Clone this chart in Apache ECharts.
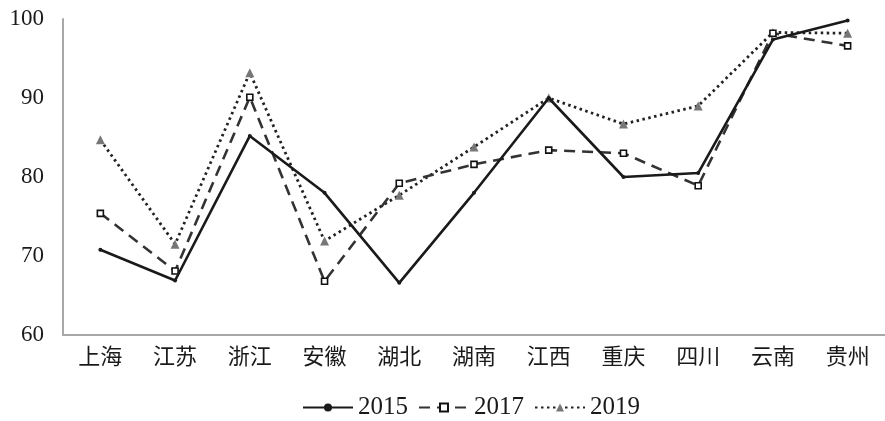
<!DOCTYPE html>
<html>
<head>
<meta charset="utf-8">
<script src="https://cdn.jsdelivr.net/npm/echarts@6/dist/echarts.min.js"></script>
<style>
  html, body { margin: 0; padding: 0; background: #fff; }
  #chart { width: 885px; height: 421px; }
</style>
</head>
<body>
<div id="chart"></div>
<script>
// Provinces along the horizontal axis
const provinces = ['上海', '江苏', '浙江', '安徽', '湖北', '湖南', '江西', '重庆', '四川', '云南', '贵州'];

// Index values per year
const values2015 = [70.8, 66.9, 85.2, 78.0, 66.6, 78.0, 90.0, 80.0, 80.5, 97.4, 99.8];
const values2017 = [75.4, 68.1, 90.1, 66.8, 79.2, 81.6, 83.4, 83.0, 78.9, 98.2, 96.6];
const values2019 = [84.7, 71.5, 93.2, 71.9, 77.7, 83.8, 90.0, 86.7, 89.0, 98.3, 98.2];

const yearNames = ['2015', '2017', '2019'];

const serif = '"Liberation Serif", "DejaVu Serif", serif';
const cjk = '"Noto Sans CJK SC", sans-serif';

const chart = echarts.init(document.getElementById('chart'));

chart.setOption({
  backgroundColor: '#ffffff',
  animation: false,
  grid: { left: 63, top: 19, width: 827, height: 316, containLabel: false },
  legend: {
    top: 395,
    left: 302,
    padding: 0,
    itemWidth: 50,
    itemHeight: 10,
    itemGap: 10,
    textStyle: { fontFamily: serif, fontSize: 25, color: '#1a1a1a' },
    data: yearNames
  },
  xAxis: {
    type: 'category',
    data: provinces,
    boundaryGap: true,
    axisLine: { lineStyle: { color: '#a8a8a8', width: 2 } },
    axisTick: { show: false },
    axisLabel: { fontFamily: cjk, fontSize: 22, color: '#1a1a1a', margin: 10 },
    splitLine: { show: false }
  },
  yAxis: {
    type: 'value',
    min: 60,
    max: 100,
    interval: 10,
    axisLine: { show: true, lineStyle: { color: '#a8a8a8', width: 2 } },
    axisTick: { show: false },
    splitLine: { show: false },
    axisLabel: { fontFamily: serif, fontSize: 23, color: '#1a1a1a', margin: 19 }
  },
  series: [
    {
      name: yearNames[0],
      type: 'line',
      data: values2015,
      symbol: 'circle',
      symbolSize: 4,
      itemStyle: { color: '#1a1a1a' },
      lineStyle: { color: '#1a1a1a', width: 2.6, type: 'solid' },
      z: 3
    },
    {
      name: yearNames[1],
      type: 'line',
      data: values2017,
      symbol: 'rect',
      symbolSize: 6,
      itemStyle: { color: '#ffffff', borderColor: '#111111', borderWidth: 1.6 },
      lineStyle: { color: '#333333', width: 2.6, type: [11, 7] },
      z: 2
    },
    {
      name: yearNames[2],
      type: 'line',
      data: values2019,
      symbol: 'triangle',
      symbolSize: 9,
      itemStyle: { color: '#777777' },
      lineStyle: { color: '#222222', width: 2.8, type: [2.5, 3.5] },
      z: 1
    }
  ]
});
</script>
</body>
</html>
